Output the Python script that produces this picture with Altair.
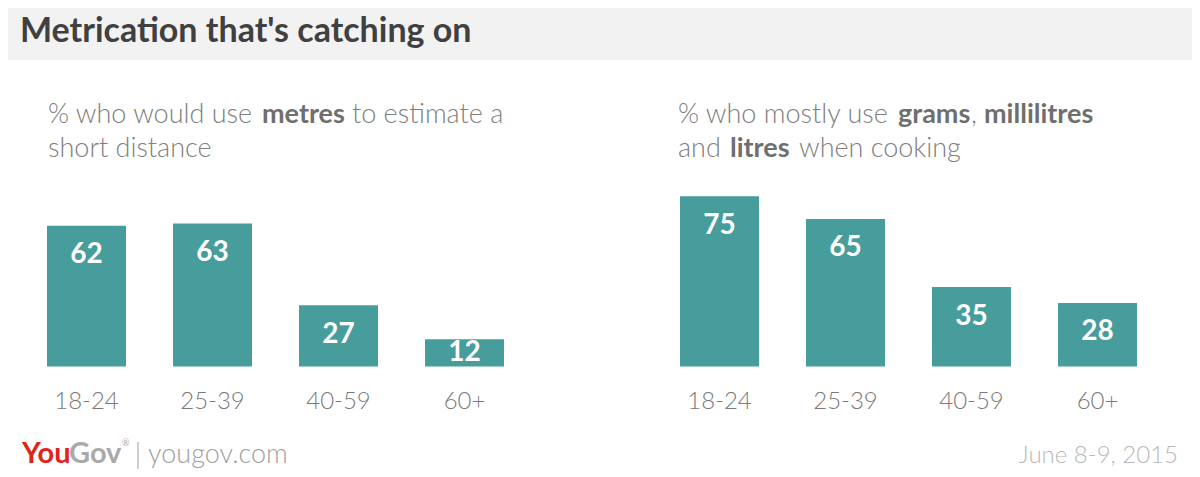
import altair as alt
import pandas as pd

# ---- data ----
age_groups = ["18-24", "25-39", "40-59", "60+"]
metres_pct = [62, 63, 27, 12]
cooking_pct = [75, 65, 35, 28]

title_text = "Metrication that's catching on"
left_sub_line1 = ["% who would use", "metres", "to estimate a"]
left_sub_line2 = ["short distance"]
right_sub_line1 = ["% who mostly use", "grams", ",", "millilitres"]
right_sub_line2 = ["and", "litres", "when cooking"]
footer_brand = ["You", "Gov", "®"]
footer_site = "yougov.com"
footer_date = "June 8-9, 2015"

# ---- style ----
TEAL = "#479d9c"
FONT = "Lato"
W, H = 1184, 461
STEP = 126
Y0, PXU = 358.5, 2.27


def txt(s, x, y, size, color, weight="normal", align="left", baseline="alphabetic"):
    return alt.Chart(pd.DataFrame({"t": [s]})).mark_text(
        font=FONT, fontSize=size, fontWeight=weight, color=color,
        align=align, baseline=baseline
    ).encode(x=alt.value(x), y=alt.value(y), text="t:N")


def panel(values, x0):
    df = pd.DataFrame({"age": age_groups, "pct": values})
    xs = alt.X("age:N", sort=age_groups, axis=None,
               scale=alt.Scale(range=[x0, x0 + 4 * STEP], paddingInner=0.373, paddingOuter=0.1865))
    yscale = alt.Scale(domain=[0, 100], range=[Y0, Y0 - 100 * PXU])
    base = alt.Chart(df)
    bars = base.mark_bar(color=TEAL).encode(
        x=xs, y=alt.Y("pct:Q", axis=None, scale=yscale))
    vals = base.transform_calculate(
        lab="datum.pct - min(13, datum.pct / 2)"
    ).mark_text(font=FONT, fontSize=28, fontWeight="bold", color="white",
                baseline="middle").encode(
        x=xs, y=alt.Y("lab:Q", axis=None, scale=yscale), text="pct:Q")
    labs = base.mark_text(font=FONT, fontSize=24, fontWeight=300, color="#7a7a7a",
                          baseline="alphabetic").encode(
        x=xs, y=alt.value(401), text="age:N")
    return alt.layer(bars, vals, labs)


header_bg = alt.Chart(pd.DataFrame({"a": [0]})).mark_rect(color="#f2f2f3").encode(
    x=alt.value(0), x2=alt.value(W), y=alt.value(0), y2=alt.value(52))
title = txt(title_text, 12, 34, 34, "#404040", weight="bold")

REG, BOLD = "#808080", "#6f6f6f"
SUB = 27
subs = [
    txt(left_sub_line1[0], 40, 115, SUB, REG, weight=300),
    txt(left_sub_line1[1], 254, 115, SUB, BOLD, weight="bold"),
    txt(left_sub_line1[2], 344, 115, SUB, REG, weight=300),
    txt(left_sub_line2[0], 40, 149, SUB, REG, weight=300),
    txt(right_sub_line1[0], 670, 115, SUB, REG, weight=300),
    txt(right_sub_line1[1], 890, 115, SUB, BOLD, weight="bold"),
    txt(right_sub_line1[2], 963, 115, SUB, REG, weight=300),
    txt(right_sub_line1[3], 976, 115, SUB, BOLD, weight="bold"),
    txt(right_sub_line2[0], 670, 149, SUB, REG, weight=300),
    txt(right_sub_line2[1], 722, 149, SUB, BOLD, weight="bold"),
    txt(right_sub_line2[2], 791, 149, SUB, REG, weight=300),
]

footer = [
    txt(footer_brand[0], 14, 455, 29, "#e2231a", weight="bold"),
    txt(footer_brand[1], 61, 455, 29, "#a9a9a9", weight="bold"),
    txt(footer_brand[2], 114, 438, 9, "#a9a9a9"),
    alt.Chart(pd.DataFrame({"a": [0]})).mark_rule(color="#b0b0b0", strokeWidth=1.2).encode(
        x=alt.value(130), y=alt.value(434), y2=alt.value(461)),
    txt(footer_site, 140, 455, 27, "#a0a0a0", weight=300),
    txt(footer_date, 1170, 455, 24, "#b8b8b8", weight=300, align="right"),
]

chart = alt.layer(
    header_bg, title, *subs,
    panel(metres_pct, 15.5),
    panel(cooking_pct, 648.5),
    *footer,
).resolve_scale(x="independent").properties(
    width=W, height=H, autosize="none", padding=0, background="white"
).configure_view(strokeWidth=0)

chart.save("out.html", embed_options={"renderer": "svg", "actions": False})
